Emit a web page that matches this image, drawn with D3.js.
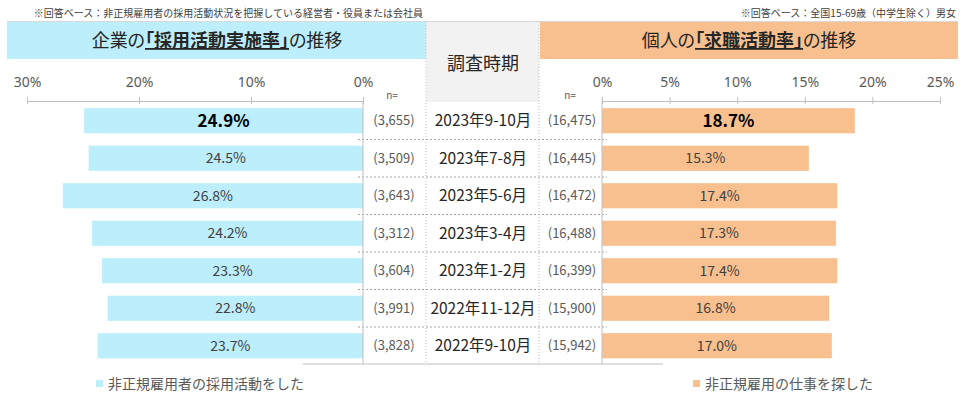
<!DOCTYPE html>
<html>
<head>
<meta charset="utf-8">
<script src="https://cdn.jsdelivr.net/npm/d3@7"></script>
<style>
  body { margin: 0; background: #fff; }
  svg { font-family: "Noto Sans CJK JP", "Noto Sans", sans-serif; }
</style>
</head>
<body>
<svg id="chart" width="966" height="406"></svg>
<script>
// survey periods (rows, top to bottom)
const periods = ["2023年9-10月", "2023年7-8月", "2023年5-6月", "2023年3-4月", "2023年1-2月", "2022年11-12月", "2022年9-10月"];
// company side: share that did recruiting (%)
const corpRates = [24.9, 24.5, 26.8, 24.2, 23.3, 22.8, 23.7];
const corpN = ["3,655", "3,509", "3,643", "3,312", "3,604", "3,991", "3,828"];
// individual side: share that looked for a job (%)
const indivRates = [18.7, 15.3, 17.4, 17.3, 17.4, 16.8, 17.0];
const indivN = ["16,475", "16,445", "16,472", "16,488", "16,399", "15,900", "15,942"];
// tick values
const corpTicks = [0, 10, 20, 30];
const indivTicks = [0, 5, 10, 15, 20, 25];

const blue = "#bdeefb";
const orange = "#f9c08f";
const grey = "#595959";

let svg = d3.select("#chart");

// scales
let xLeft = d3.scaleLinear().domain([0, 30]).range([363, 27]);
let xRight = d3.scaleLinear().domain([0, 25]).range([602, 940]);
let yScale = d3.scaleBand().domain(periods).range([102, 364.5]).paddingInner(0.33).paddingOuter(0.165);
let step = yScale.step();
let rowTop = d => yScale(d) - yScale.paddingOuter() * step;

// notes at the very top
svg.append("text").attr("x", 423).attr("y", 17).attr("text-anchor", "end")
  .style("font-size", "10px").attr("fill", "#404040")
  .text("※回答ベース：非正規雇用者の採用活動状況を把握している経営者・役員または会社員");
svg.append("text").attr("x", 956).attr("y", 17).attr("text-anchor", "end")
  .style("font-size", "10px").attr("fill", "#404040")
  .text("※回答ベース：全国15-69歳（中学生除く）男女");

// header boxes
svg.append("rect").attr("x", 7).attr("y", 22).attr("width", 419).attr("height", 37).attr("fill", blue);
svg.append("rect").attr("x", 426).attr("y", 22).attr("width", 113).attr("height", 80).attr("fill", "#f2f2f2");
svg.append("rect").attr("x", 540).attr("y", 22).attr("width", 418).attr("height", 37).attr("fill", orange);
svg.append("line").attr("x1", 7).attr("x2", 958).attr("y1", 21.5).attr("y2", 21.5).attr("stroke", "#d9d9d9");

function header(x, pre, key, post) {
  let t = svg.append("text").attr("x", x).attr("y", 47).attr("text-anchor", "middle")
    .style("font-size", "18px").style("font-feature-settings", "'palt'").attr("fill", "#262626");
  t.append("tspan").text(pre);
  t.append("tspan").style("font-weight", "bold").style("text-decoration", "underline").text(key);
  t.append("tspan").text(post);
}
header(217, "企業の", "「採用活動実施率」", "の推移");
header(749, "個人の", "「求職活動率」", "の推移");

svg.append("text").attr("x", 483).attr("y", 70).attr("text-anchor", "middle")
  .style("font-size", "18px").attr("fill", "#262626").text("調査時期");

// dotted column dividers
[426, 539].forEach(x => {
  svg.append("line").attr("x1", x).attr("x2", x).attr("y1", 22).attr("y2", 364)
    .attr("stroke", "#bfbfbf").attr("stroke-dasharray", "1,2");
});

// row separators
svg.selectAll(".sep").data(periods.slice(1)).enter().append("line")
  .attr("class", "sep")
  .attr("x1", 358).attr("x2", 607)
  .attr("y1", d => rowTop(d)).attr("y2", d => rowTop(d))
  .attr("stroke", "#a6a6a6").attr("stroke-dasharray", "2,2");

// bars
svg.selectAll(".lbar").data(corpRates).enter().append("rect")
  .attr("class", "lbar")
  .attr("x", d => xLeft(d)).attr("y", (d, i) => yScale(periods[i]))
  .attr("width", d => xLeft(0) - xLeft(d)).attr("height", yScale.bandwidth())
  .attr("fill", blue);
svg.selectAll(".rbar").data(indivRates).enter().append("rect")
  .attr("class", "rbar")
  .attr("x", xRight(0)).attr("y", (d, i) => yScale(periods[i]))
  .attr("width", d => xRight(d) - xRight(0)).attr("height", yScale.bandwidth())
  .attr("fill", orange);

// bar value labels
function valueLabels(data, cx) {
  svg.selectAll(null).data(data).enter().append("text")
    .attr("x", cx).attr("y", (d, i) => yScale(periods[i]) + yScale.bandwidth() / 2)
    .attr("dy", "0.36em").attr("text-anchor", "middle")
    .style("font-size", (d, i) => i === 0 ? "17px" : "14px")
    .style("font-weight", (d, i) => i === 0 ? "bold" : "normal")
    .attr("fill", (d, i) => i === 0 ? "#000" : "#404040")
    .text(d => d.toFixed(1) + "%");
}
valueLabels(corpRates, d => (xLeft(d) + xLeft(0)) / 2);
valueLabels(indivRates, d => (xRight(d) + xRight(0)) / 2);

// middle table text
svg.selectAll(".nl").data(corpN).enter().append("text")
  .attr("x", 394).attr("y", (d, i) => yScale(periods[i]) + yScale.bandwidth() / 2)
  .attr("dy", "0.36em").attr("text-anchor", "middle")
  .style("font-size", "13px").attr("fill", grey).text(d => "(" + d + ")");
svg.selectAll(".nr").data(indivN).enter().append("text")
  .attr("x", 572).attr("y", (d, i) => yScale(periods[i]) + yScale.bandwidth() / 2)
  .attr("dy", "0.36em").attr("text-anchor", "middle")
  .style("font-size", "13px").attr("fill", grey).text(d => "(" + d + ")");
svg.selectAll(".per").data(periods).enter().append("text")
  .attr("x", 483).attr("y", d => yScale(d) + yScale.bandwidth() / 2)
  .attr("dy", "0.36em").attr("text-anchor", "middle")
  .style("font-size", d => d.length > 11 ? "14.5px" : "15.5px").attr("fill", "#262626").text(d => d);

[392, 570].forEach(x => {
  svg.append("text").attr("x", x).attr("y", 99).attr("text-anchor", "middle")
    .style("font-size", "10px").attr("fill", grey).text("n=");
});

// value axes on top
function topAxis(scale, ticks) {
  let g = svg.append("g").attr("transform", "translate(0,101)")
    .call(d3.axisTop(scale).tickValues(ticks).tickFormat(d => d + "%").tickSizeOuter(0).tickSize(4).tickPadding(10));
  g.select(".domain").attr("stroke", "#bfbfbf");
  g.selectAll(".tick line").attr("stroke", "#bfbfbf").attr("y1", 3).attr("y2", -4);
  g.selectAll(".tick text").style("font-size", "14px").style("font-family", "'Noto Sans', sans-serif").attr("fill", grey);
}
topAxis(xLeft, corpTicks);
topAxis(xRight, indivTicks);

// category axis lines at 0
[363, 602].forEach(x => {
  svg.append("line").attr("x1", x).attr("x2", x).attr("y1", 101).attr("y2", 364)
    .attr("stroke", "#bfbfbf");
});
svg.append("line").attr("x1", 303).attr("x2", 663).attr("y1", 364).attr("y2", 364).attr("stroke", "#bfbfbf");

// legends
function legend(x, color, label) {
  svg.append("rect").attr("x", x).attr("y", 380).attr("width", 7).attr("height", 7).attr("fill", color);
  svg.append("text").attr("x", x + 12).attr("y", 384).attr("dy", "0.36em")
    .style("font-size", "14px").attr("fill", grey).text(label);
}
legend(96, blue, "非正規雇用者の採用活動をした");
legend(693, orange, "非正規雇用の仕事を探した");
</script>
</body>
</html>
